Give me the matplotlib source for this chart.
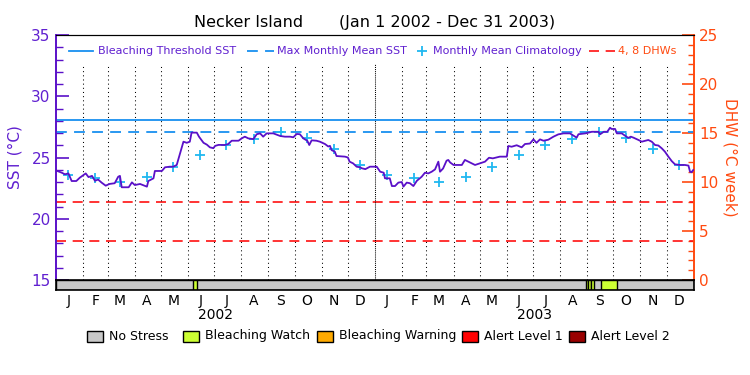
import numpy as np
import matplotlib
matplotlib.use("Agg")
import matplotlib.pyplot as plt
from matplotlib.lines import Line2D
from matplotlib.patches import Rectangle

# ---------------- data ----------------
title = "Necker Island       (Jan 1 2002 - Dec 31 2003)"
base = np.datetime64("2002-01-01")
end = np.datetime64("2004-01-01")

# SST (days since Jan 1 2002, deg C)
sst_day = [0.5, 6.3, 10, 14, 17.7, 23, 27, 33.8, 37, 41, 44.4, 48, 52, 56.7, 61, 67, 71, 73, 75, 83,
           86.7, 90, 96, 100, 103.9, 105.5, 111.4, 113, 121, 124.6, 130, 134, 138, 141.8, 145.7, 149.5,
           153, 155, 161, 163.5, 168.7, 172.5, 176, 180, 182, 186, 193, 197, 201, 208.8, 212.4, 216,
           220, 225.8, 229.6, 233.5, 237, 241, 248.6, 256.3, 262, 267.7, 271.5, 275.4, 279, 283, 287.5,
           289.8, 292.5, 298, 302, 307.8, 311.5, 313.5, 315.4, 319, 321, 330.7, 334, 336, 340, 344, 348,
           350, 354, 359.3, 367, 371, 375, 376.5, 382, 384.4, 388, 391.8, 395.7, 397.6, 401.4, 405, 409,
           413, 418.5, 422.3, 426, 430, 433.8, 437.6, 439.5, 443, 447, 449, 451, 455, 464.5, 468, 472,
           479.6, 485, 491, 495.6, 500, 508, 516, 517.7, 521.5, 527.3, 533, 536.8, 542.5, 546.5, 550,
           554, 558, 563.5, 569.4, 575, 581, 588.3, 592, 596, 598, 606, 613.4, 621, 622.7, 627, 631,
           634.2, 636, 640, 642, 647.6, 651.4, 655, 658, 661, 666.8, 670.5, 678, 682, 685.7, 689.5,
           693.4, 697, 701, 704.8, 708.6, 714.5, 720, 724, 725.8, 727.5, 729.5]
sst_val = [23.92, 23.76, 23.63, 23.7, 23.08, 23.08, 23.35, 23.7, 23.4, 23.5, 23.1, 23.2, 22.95, 22.7,
           22.84, 22.9, 23.43, 23.5, 22.57, 22.57, 22.97, 22.75, 22.84, 22.73, 22.62, 23.08, 23.3, 23.9,
           23.9, 24.2, 24.25, 24.25, 24.39, 25.34, 26.29, 26.2, 26.29, 27.03, 27.03, 26.7, 26.2, 26.05,
           25.83, 25.76, 25.95, 26.03, 26.02, 26.1, 26.37, 26.37, 26.56, 26.7, 26.56, 26.5, 26.9, 26.97,
           26.7, 26.97, 26.97, 26.76, 26.7, 26.7, 26.65, 26.92, 26.9, 26.56, 26.37, 26.02, 26.4, 26.37,
           26.29, 26.1, 25.9, 25.95, 25.6, 25.48, 25.12, 25.07, 25.0, 24.66, 24.52, 24.25, 24.2, 24.12,
           24.05, 24.25, 24.25, 23.84, 23.76, 23.3, 23.3, 22.67, 22.67, 22.95, 23.0, 22.62, 22.95, 22.9,
           22.67, 23.1, 23.43, 23.76, 23.7, 23.84, 24.03, 24.66, 23.84, 24.1, 24.74, 24.8, 24.6, 24.39,
           24.39, 24.8, 24.66, 24.39, 24.52, 24.66, 24.98, 24.93, 25.07, 25.07, 25.94, 25.88, 26.0, 25.83,
           26.1, 26.14, 26.48, 26.2, 26.48, 26.37, 26.45, 26.7, 26.89, 26.97, 26.97, 26.8, 26.62, 26.9,
           26.97, 27.1, 27.1, 26.89, 27.1, 27.1, 27.43, 27.33, 27.33, 26.97, 26.97, 26.78, 26.6, 26.7,
           26.62, 26.43, 26.29, 26.43, 26.29, 26.02, 25.98, 25.75, 25.48, 25.07, 24.71, 24.44, 24.39,
           24.39, 24.34, 23.84, 23.8, 23.98]

# Monthly mean climatology (Jan..Dec), plotted mid-month both years
clim_values = [23.57, 23.3, 22.97, 23.4, 24.2, 25.2, 26.0, 26.53, 27.05, 26.63, 25.67, 24.35]
mmm = 27.07
bleach_threshold = 28.07
dhw_levels = [4, 8]

# Bleaching Watch periods (days since Jan 1 2002)
watch_start = [157.2, 606.7, 609.5, 612.7, 623.5]
watch_end = [161.0, 609.5, 612.7, 615.5, 641.8]

month_letters = ["J", "F", "M", "A", "M", "J", "J", "A", "S", "O", "N", "D"]
years = ["2002", "2003"]
status_names = ["No Stress", "Bleaching Watch", "Bleaching Warning", "Alert Level 1", "Alert Level 2"]
status_colors = ["#C8C8C8", "#CCFF33", "#FFAA00", "#FF0000", "#990000"]

# ---------------- styling ----------------
PURPLE = "#5A10C8"
PTEXT = "#6020D0"
BLUE = "#1890F0"
CYAN = "#20B8F0"
ORANGE = "#FF4A10"
RED = "#FF1010"

plt.rcParams["font.family"] = ["DejaVu Sans"]

fig = plt.figure(figsize=(7.5, 3.75), dpi=100)
W, H = 750.0, 375.0
x0, x1 = 56.2, 693.7
ytop, ybot, ybar = 35.0, 280.0, 290.0
ax = fig.add_axes([x0 / W, 1 - ybot / H, (x1 - x0) / W, (ybot - ytop) / H])
axr = ax.twinx()
axb = fig.add_axes([x0 / W, 1 - ybar / H, (x1 - x0) / W, (ybar - ybot) / H])

ndays = int((end - base).astype(int))
months = np.arange("2002-01", "2004-01", dtype="datetime64[M]")
mstart = (months.astype("datetime64[D]") - base).astype(int)
mmid = mstart + 14
mend = np.append(mstart[1:], ndays)

for a in (ax, axb):
    a.set_xlim(0, ndays)
ax.set_ylim(15, 35)
axr.set_ylim(0, 25)

# month boundary dotted lines
for i, d in enumerate(mstart[1:]):
    ls = (0, (1, 1)) if months[i + 1].astype(object).month == 1 else (0, (1, 3))
    ax.axvline(d, ymin=0, ymax=0.882, color="black", lw=0.75, ls=ls, zorder=1)

# reference lines
ax.axhline(bleach_threshold, color=BLUE, lw=1.3, zorder=2)
ax.axhline(mmm, color=BLUE, lw=1.3, ls=(0, (6, 4)), zorder=2)
for lv in dhw_levels:
    axr.axhline(lv, color=RED, lw=1.2, ls=(0, (6, 4)), zorder=2)

# climatology markers
clim_all = clim_values * 2
ax.plot(mmid, clim_all, ls="none", marker="+", ms=7, mew=1.3, color=CYAN, zorder=3)

# SST
axr.set_zorder(ax.get_zorder() - 1)
ax.patch.set_visible(False)
ax.plot(sst_day, sst_val, color=PURPLE, lw=1.3, zorder=4)

# axes styling
ax.set_xticks([])
ax.set_yticks([15, 20, 25, 30, 35])
ax.set_yticks(np.arange(15, 36, 1), minor=True)
ax.tick_params(axis="y", which="major", direction="in", length=9.5, width=1.2, color=PURPLE,
               labelcolor=PTEXT, labelsize=11, pad=4)
ax.tick_params(axis="y", which="minor", direction="in", length=4.8, width=1.0, color=PURPLE)
axr.set_yticks([0, 5, 10, 15, 20, 25])
axr.set_yticks(np.arange(0, 26, 1), minor=True)
axr.tick_params(axis="y", which="major", direction="in", length=9.0, width=1.2, color=ORANGE,
                labelcolor=ORANGE, labelsize=11, pad=4)
axr.tick_params(axis="y", which="minor", direction="in", length=4.5, width=1.0, color=ORANGE)
for a in (ax, axr):
    a.spines["left"].set_color(PURPLE)
    a.spines["right"].set_color(ORANGE)
    a.spines["top"].set_color("black")
    a.spines["bottom"].set_visible(False)
    a.spines["left"].set_linewidth(1.2)
    a.spines["right"].set_linewidth(1.2)
ax.set_ylabel("SST (\u00b0C)", color=PTEXT, fontsize=11, labelpad=6)
axr.set_ylabel("DHW (\u00b0C week)", color=ORANGE, fontsize=11, rotation=270, labelpad=14)

fig.text((x0 + x1) / 2 / W, 1 - 22 / H, title, ha="center", va="center", fontsize=11.5, color="black")

# status bar
axb.set_ylim(0, 1)
axb.barh(0.5, ndays, left=0, height=1, color=status_colors[0], edgecolor="black", lw=1.0)
for s, e in zip(watch_start, watch_end):
    axb.barh(0.5, e - s, left=s, height=1, color=status_colors[1], edgecolor="black", lw=1.0)
axb.set_yticks([])
axb.set_xticks(mmid)
axb.set_xticklabels(month_letters * 2, fontsize=10)
axb.tick_params(axis="x", length=0, pad=3)
for sp in axb.spines.values():
    sp.set_color("black")
    sp.set_linewidth(1.2)
for i, y in enumerate(years):
    axb.text(mstart[12 * i] + (mend[12 * i + 11] - mstart[12 * i]) / 2, -2.5, y, ha="center",
             va="center", fontsize=10, transform=axb.transData)

# top legend
ly = 1 - 51 / H
fs = 8
def fx(px):
    return px / W
fig.add_artist(Line2D([fx(69), fx(93)], [ly, ly], color=BLUE, lw=1.3))
fig.text(fx(98), ly, "Bleaching Threshold SST", color=PTEXT, fontsize=fs, va="center")
fig.add_artist(Line2D([fx(247), fx(274)], [ly, ly], color=BLUE, lw=1.3, ls=(0, (6, 4))))
fig.text(fx(277), ly, "Max Monthly Mean SST", color=PTEXT, fontsize=fs, va="center")
fig.add_artist(Line2D([fx(421.7)], [ly], color=CYAN, marker="+", ms=7, mew=1.3, ls="none"))
fig.text(fx(433), ly, "Monthly Mean Climatology", color=PTEXT, fontsize=fs, va="center")
fig.add_artist(Line2D([fx(589), fx(615)], [ly, ly], color=RED, lw=1.2, ls=(0, (6, 4))))
fig.text(fx(618), ly, "4, 8 DHWs", color=ORANGE, fontsize=fs, va="center")

# bottom legend
by = 1 - 336 / H
box_x = [87, 183, 317, 461.7, 569]
for bx, name, col in zip(box_x, status_names, status_colors):
    fig.add_artist(Rectangle((bx / W, by - 5.5 / H), 16 / W, 11 / H, facecolor=col,
                             edgecolor="black", lw=1.0, transform=fig.transFigure))
    fig.text((bx + 22) / W, by, name, fontsize=9, va="center", color="black")

fig.savefig("out.png", dpi=100)
